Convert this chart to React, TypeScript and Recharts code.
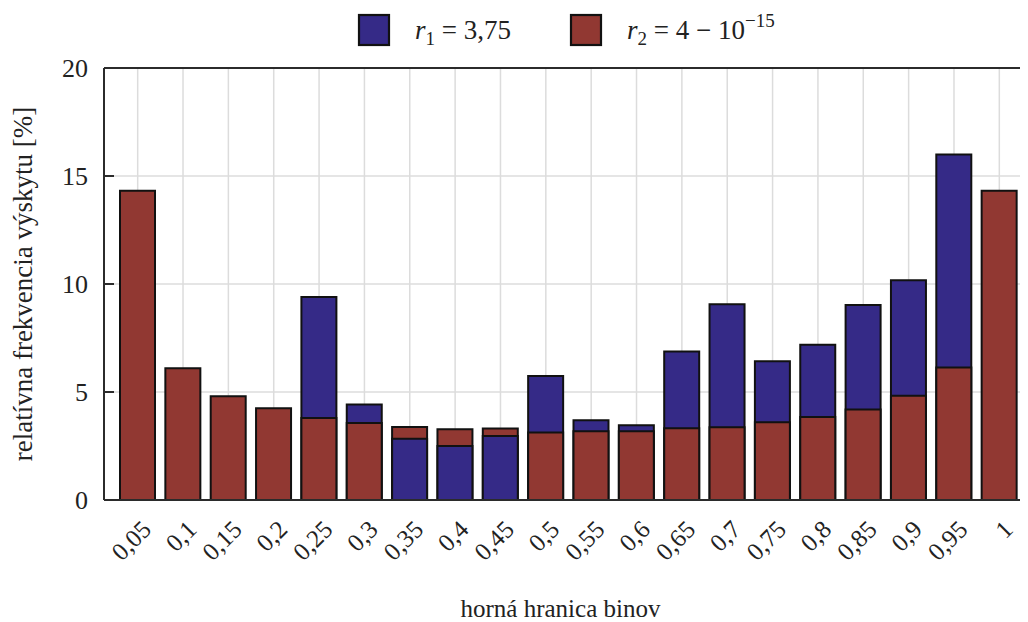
import React from 'react';
import { BarChart, Bar, XAxis, YAxis, CartesianGrid, Cell, Legend } from 'recharts';

// upper bin edges of the histogram
const bins = ['0,05', '0,1', '0,15', '0,2', '0,25', '0,3', '0,35', '0,4', '0,45', '0,5',
  '0,55', '0,6', '0,65', '0,7', '0,75', '0,8', '0,85', '0,9', '0,95', '1'];

// relative frequency [%] for r1 = 3.75
const r1Share = [0, 0, 0, 0, 9.4, 4.42, 2.84, 2.5, 2.96, 5.74,
  3.69, 3.46, 6.88, 9.06, 6.42, 7.19, 9.03, 10.17, 16.0, 0];

// relative frequency [%] for r2 = 4 - 1e-15
const r2Share = [14.32, 6.1, 4.8, 4.25, 3.8, 3.56, 3.38, 3.27, 3.31, 3.13,
  3.18, 3.18, 3.32, 3.37, 3.6, 3.84, 4.19, 4.83, 6.14, 14.32];

const yTicks = [0, 5, 10, 15, 20];

const BLUE = '#352a87';
const RED = '#913832';
const FRAME = '#2b2b2b';
const FONT = '"Liberation Serif", "Times New Roman", serif';

// taller bar goes behind, shorter one is drawn over it
const rows = bins.map((bin, i) => {
  const blueBehind = r1Share[i] >= r2Share[i];
  return {
    bin,
    back: Math.max(r1Share[i], r2Share[i]),
    front: Math.min(r1Share[i], r2Share[i]),
    backColor: blueBehind ? BLUE : RED,
    frontColor: blueBehind ? RED : BLUE,
  };
});

const BinTick = (props: any) => {
  const { x, y, payload } = props;
  const ax = x + 15;
  const ay = y + 31;
  return (
    <text x={ax} y={ay} transform={`rotate(-45, ${ax}, ${ay})`} textAnchor="end"
      fill="#222" fontSize={25} fontFamily={FONT}>
      {payload.value}
    </text>
  );
};

const LegendBox = () => (
  <svg width={1040} height={50}>
    <rect x={351} y={7} width={30} height={30} fill={BLUE} stroke="#111" strokeWidth={2.2} />
    <text x={407} y={31} fontSize={27} fontFamily={FONT} fill="#222">
      <tspan fontStyle="italic">r</tspan>
      <tspan fontSize={19} dy={6}>1</tspan>
      <tspan dy={-6}> = 3,75</tspan>
    </text>
    <rect x={563} y={7} width={30} height={30} fill={RED} stroke="#111" strokeWidth={2.2} />
    <text x={619} y={31} fontSize={27} fontFamily={FONT} fill="#222">
      <tspan fontStyle="italic">r</tspan>
      <tspan fontSize={19} dy={6}>2</tspan>
      <tspan dy={-6}> = 4 − 10</tspan>
      <tspan fontSize={19} dy={-12}>−15</tspan>
    </text>
  </svg>
);

const App: React.FC = () => {
  return (
    <div style={{ width: 1020, height: 614, overflow: 'hidden' }}>
      <style>{'html, body { overflow: hidden; }'}</style>
      <BarChart width={1040} height={614} data={rows}
        margin={{ top: 50, right: 5, bottom: 0, left: 0 }}>
        <CartesianGrid xAxisId="bottom" yAxisId="left" stroke="#dcdcdc" strokeWidth={1.5} />
        <XAxis
          xAxisId="bottom"
          dataKey="bin"
          height={122}
          padding={{ left: 11, right: 11 }}
          interval={0}
          tickLine={false}
          tickSize={0}
          tickMargin={0}
          tick={<BinTick />}
          axisLine={{ stroke: FRAME, strokeWidth: 2 }}
          label={{
            content: (p: any) => (
              <text x={p.viewBox.x + p.viewBox.width / 2 - 8} y={609} textAnchor="middle"
                fill="#222" fontSize={25} fontFamily={FONT}>
                horná hranica binov
              </text>
            ),
          }}
        />
        <XAxis
          xAxisId="top"
          orientation="top"
          dataKey="bin"
          height={10}
          padding={{ left: 11, right: 11 }}
          interval={0}
          tick={false}
          tickSize={-10}
          tickLine={{ stroke: FRAME, strokeWidth: 2 }}
          axisLine={{ stroke: FRAME, strokeWidth: 2 }}
        />
        <YAxis
          yAxisId="left"
          domain={[0, 20]}
          ticks={yTicks}
          width={96}
          tickSize={-10}
          tickMargin={26}
          tick={{ fill: '#222', fontSize: 26, fontFamily: FONT }}
          tickLine={{ stroke: FRAME, strokeWidth: 2 }}
          axisLine={{ stroke: FRAME, strokeWidth: 2 }}
          label={{
            content: (p: any) => {
              const cx = 15;
              const cy = p.viewBox.y + p.viewBox.height / 2;
              return (
                <text x={cx} y={cy} transform={`rotate(-90, ${cx}, ${cy})`} textAnchor="middle"
                  dominantBaseline="central" fill="#222" fontSize={27} fontFamily={FONT}>
                  relatívna frekvencia výskytu [%]
                </text>
              );
            },
          }}
        />
        <YAxis
          yAxisId="right"
          orientation="right"
          domain={[0, 20]}
          ticks={yTicks}
          width={10}
          tick={false}
          tickSize={-10}
          tickLine={{ stroke: FRAME, strokeWidth: 2 }}
          axisLine={{ stroke: FRAME, strokeWidth: 2 }}
        />
        <Legend verticalAlign="middle" align="center" layout="horizontal"
          wrapperStyle={{ top: 0, left: 0, width: 1040, height: 50 }}
          content={LegendBox} />
        <Bar xAxisId="bottom" yAxisId="left" dataKey="back" barSize={35}
          stroke="#111" strokeWidth={2} isAnimationActive={false}>
          {rows.map((r) => <Cell key={`b-${r.bin}`} fill={r.backColor} />)}
        </Bar>
        <Bar xAxisId="top" yAxisId="left" dataKey="front" barSize={35}
          stroke="#111" strokeWidth={2} isAnimationActive={false}>
          {rows.map((r) => <Cell key={`f-${r.bin}`} fill={r.frontColor} />)}
        </Bar>
      </BarChart>
    </div>
  );
};

export default App;
